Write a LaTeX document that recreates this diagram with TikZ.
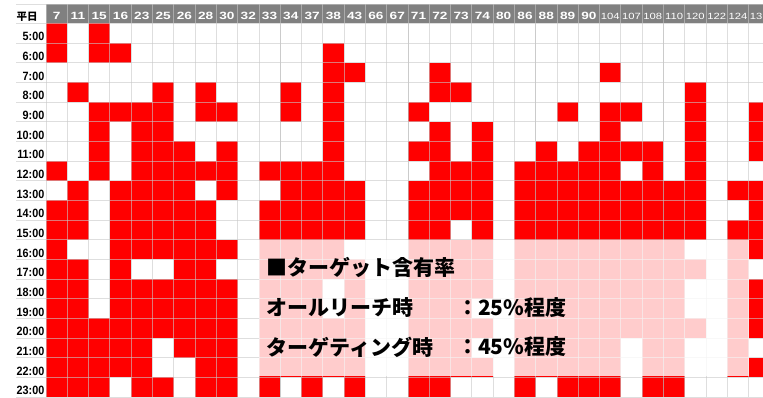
\documentclass[tikz,border=0pt]{standalone}
\usepackage{fontspec}
\setmainfont{Liberation Sans}
\newfontfamily\cjk{Noto Sans CJK JP}
\definecolor{cellred}{RGB}{255,0,0}
\definecolor{hdrgray}{RGB}{128,128,128}
\definecolor{gridc}{RGB}{200,200,200}
\definecolor{gridd}{RGB}{160,160,160}
\newcommand\redrow[2]{\foreach \c in {#2} {\fill[cellred] ({46+\c*21.29},{23.3+#1*19.67}) rectangle ++(21.29,19.67);}}
\tikzset{
  gridline/.style={draw=gridc, line width=0.8pt, opacity=0.6},
  hdrnum/.style={text=white, font=\fontsize{10.5}{10.5}\selectfont\bfseries, inner sep=0pt, anchor=base},
  hdrnumsm/.style={text=white, font=\fontsize{9}{9}\selectfont, inner sep=0pt, anchor=base},
  timelbl/.style={text=black, font=\fontsize{12}{12}\selectfont\bfseries, inner sep=0pt, anchor=base east},
  ovtext/.style={text=black, font=\cjk\bfseries\fontsize{21}{21}\selectfont, inner sep=0pt, anchor=west},
  overlay/.style={fill=white, fill opacity=0.8}
}
\begin{document}
\begin{tikzpicture}[x=1pt,y=-1pt]
\useasboundingbox (0,0) rectangle (763,397);
\clip (0,0) rectangle (763,397);
\fill[white] (0,0) rectangle (763,397);
% header band
\fill[hdrgray] (46,4) rectangle (775,23.3);
% red cells
\redrow{0}{0,2}
\redrow{1}{0,2,3,13}
\redrow{2}{13,14,18,26}
\redrow{3}{1,5,7,11,13,18,19,30}
\redrow{4}{2,3,4,5,7,8,11,13,17,24,26,27,30,33}
\redrow{5}{2,4,5,13,18,20,26,30,33}
\redrow{6}{2,4,5,6,8,13,17,18,20,23,25,26,27,28,30,33}
\redrow{7}{0,2,4,5,6,7,8,10,11,12,13,18,19,20,22,23,24,25,26,28,30}
\redrow{8}{1,3,4,5,6,8,11,12,13,14,17,18,19,20,22,23,24,25,26,27,28,29,30,32,33}
\redrow{9}{0,1,3,4,5,6,7,10,11,12,13,14,17,18,19,20,22,23,24,25,26,27,28,29,30,33}
\redrow{10}{0,1,3,4,5,6,7,10,11,12,13,14,17,18,20,22,23,24,25,26,27,28,29,30,32,33}
\redrow{11}{0,3,4,5,6,7,8,10,11,12,13,17,18,19,20,22,23,24,25,26,27,28,29,32,33}
\redrow{12}{0,1,3,6,7,10,11,12,13,14,17,18,19,20,22,23,24,25,26,27,28,29,30,32}
\redrow{13}{0,1,3,4,5,6,7,8,10,11,12,14,17,18,19,20,22,23,24,25,26,27,28,29,32,33}
\redrow{14}{0,1,3,4,5,6,7,8,10,11,12,14,17,18,19,22,23,24,25,26,27,28,29,32,33}
\redrow{15}{0,1,2,3,4,5,6,7,8,10,11,12,13,14,17,18,19,20,22,23,24,25,26,27,28,29,30,32,33}
\redrow{16}{0,1,2,3,4,6,7,8,10,11,12,13,14,17,18,19,22,23,24,25,26,28,29,32}
\redrow{17}{0,1,2,3,4,7,8,10,11,12,13,14,17,18,19,20,22,23,24,25,26,28,29,32,33}
\redrow{18}{0,1,2,4,5,7,8,10,12,14,17,18,22,24,25,26,28,29}
% grid
\foreach \k in {0,...,34} \draw[gridline] ({46+\k*21.29},4) -- ({46+\k*21.29},397);
\foreach \k in {11,17,23,29} \draw[draw=gridd, line width=0.8pt, opacity=0.3] ({46+\k*21.29},4) -- ({46+\k*21.29},397);
\foreach \k in {0,...,19} \draw[gridline] (16,{23.3+\k*19.67}) -- (775,{23.3+\k*19.67});
\draw[gridline] (16,4) -- (775,4);
% header labels
\node[text=black, font=\cjk\bfseries\fontsize{10.5}{10.5}\selectfont, inner sep=0pt] (heiday) at (27,16.5) {平日};
\foreach \n [count=\i from 0] in {7,11,15,16,23,25,26,28,30,32,33,34,37,38,43,66,67,71,72,73,74,80,86,88,89,90}
  \node[hdrnum] (h\i) at ({46+(\i+0.5)*21.29},19.3) {\scalebox{1.3}[1]{\n}};
\foreach \n [count=\i from 26] in {104,107,108,110,120,122,124,131}
  \node[hdrnumsm] (h\i) at ({46+(\i+0.5)*21.29},19.0) {\scalebox{1.25}[1]{\n}};
% time labels
\foreach \t [count=\i from 0] in {5,...,23}
  \node[timelbl] (tl\i) at (44.5,{23.3+\i*19.67+17.6}) {\scalebox{0.9}[1]{\t:00}};
% overlay
\fill[overlay] (258.9,239.7) rectangle (748.7,375.6);
\node[ovtext] (ov1) at (266.5,267.5) {■ターゲット含有率};
\node[ovtext] (ov2) at (266.5,307.5) {オールリーチ時};
\node[ovtext] (ov2v) at (457,307.5) {：25\%程度};
\node[ovtext] (ov3) at (266.5,347) {ターゲティング時};
\node[ovtext] (ov3v) at (457,347) {：45\%程度};
\end{tikzpicture}
\end{document}
